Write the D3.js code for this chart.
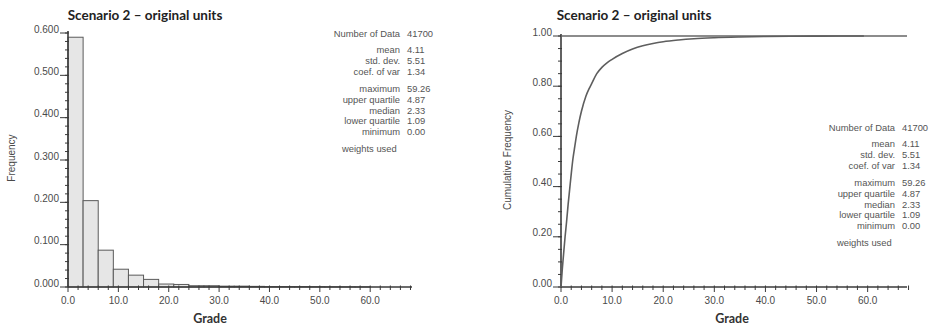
<!DOCTYPE html>
<html>
<head>
<meta charset="utf-8">
<script src="https://cdn.jsdelivr.net/npm/d3@7"></script>
<style>
  body { margin: 0; background: #fff; }
  svg text { font-family: "Liberation Sans", Arial, sans-serif; }
</style>
</head>
<body>
<div id="chart"></div>
<script>
// histogram, bins of 3.0 grade units
var binWidth = 3;
var binStarts = [0, 3, 6, 9, 12, 15, 18, 21, 24, 27, 30, 33, 36, 39, 42, 45, 48, 51, 54, 57];
var binFreq = [0.590, 0.204, 0.087, 0.042, 0.028, 0.018, 0.007, 0.006, 0.003, 0.003,
               0.002, 0.002, 0.0015, 0.001, 0.001, 0.001, 0.0008, 0.0006, 0.0005, 0.0004];

// cumulative curve
var cumGrade = [0, 0.25, 0.5, 0.8, 1.09, 1.4, 1.7, 2.0, 2.33, 2.7, 3.0, 3.5, 4.0, 4.87, 5.5, 6.0, 7.0, 8.0, 9.0,
                10, 12, 14, 16, 18, 20, 23, 26, 30, 35, 40, 45, 50, 59.26];
var cumFreq = [0, 0.07, 0.13, 0.20, 0.26, 0.33, 0.39, 0.45, 0.51, 0.56, 0.60, 0.655, 0.70, 0.76, 0.79, 0.81, 0.85, 0.875, 0.893,
               0.907, 0.930, 0.948, 0.961, 0.970, 0.977, 0.984, 0.989, 0.993, 0.996, 0.998, 0.999, 0.9995, 1.0];

var statLabels = ["Number of Data", "mean", "std. dev.", "coef. of var", "maximum", "upper quartile", "median", "lower quartile", "minimum"];
var statValues = ["41700", "4.11", "5.51", "1.34", "59.26", "4.87", "2.33", "1.09", "0.00"];

var titleText = "Scenario 2 \u2013 original units";

var svg = d3.select("#chart").append("svg")
    .attr("width", 933)
    .attr("height", 326)

var axisCol = "#3a3a3a";
var textCol = "#4a4a4a";

function drawAxes(g, x, y, yMajor, yMinor, yFmt) {
  var x0 = x.range()[0], x1 = x.range()[1];
  var y0 = y.range()[0], y1 = y.range()[1];

  // x axis
  g.append("line").attr("x1", x0).attr("x2", x1).attr("y1", y0).attr("y2", y0)
    .attr("stroke", axisCol).attr("stroke-width", 1.6)
  g.selectAll(".xminor").data(d3.range(0, 68.1, 2)).enter().append("line")
    .attr("x1", d => x(d)).attr("x2", d => x(d))
    .attr("y1", y0 - 1.5).attr("y2", d => d % 10 == 0 ? y0 + 5 : y0 + 3)
    .attr("stroke", axisCol).attr("stroke-width", 1)
  g.selectAll(".xlab").data(d3.range(0, 61, 10)).enter().append("text")
    .attr("x", d => x(d)).attr("y", y0 + 17)
    .attr("text-anchor", "middle")
    .attr("font-size", 10).attr("fill", textCol)
    .text(d => d3.format(".1f")(d))

  // y axis
  g.append("line").attr("x1", x0).attr("x2", x0).attr("y1", y0).attr("y2", y1 - 2)
    .attr("stroke", axisCol).attr("stroke-width", 1.6)
  g.selectAll(".yminor").data(yMinor).enter().append("line")
    .attr("x1", x0 - 3).attr("x2", x0 + 1)
    .attr("y1", d => y(d)).attr("y2", d => y(d))
    .attr("stroke", axisCol).attr("stroke-width", 1)
  g.selectAll(".ymajor").data(yMajor).enter().append("line")
    .attr("x1", x0 - 8).attr("x2", x0)
    .attr("y1", d => y(d)).attr("y2", d => y(d))
    .attr("stroke", axisCol).attr("stroke-width", 1)
  g.selectAll(".ylab").data(yMajor).enter().append("text")
    .attr("x", x0 - 9).attr("y", d => y(d) - 0.5)
    .attr("text-anchor", "end")
    .attr("font-size", 10).attr("fill", textCol)
    .text(d => yFmt(d))
}

function drawStats(g, rightX, topY) {
  var rows = [0, 16, 26.8, 37.6, 55, 65.8, 76.6, 87.4, 98.2];
  g.selectAll(".slab").data(statLabels).enter().append("text")
    .attr("x", rightX).attr("y", (d, i) => topY + rows[i])
    .attr("text-anchor", "end")
    .attr("font-size", 9.4).attr("fill", "#555")
    .text(d => d)
  g.selectAll(".sval").data(statValues).enter().append("text")
    .attr("x", rightX + 7).attr("y", (d, i) => topY + rows[i])
    .attr("font-size", 9.4).attr("fill", "#555")
    .text(d => d)
  g.append("text")
    .attr("x", rightX - 58).attr("y", topY + 115)
    .attr("font-size", 9.4).attr("fill", "#555")
    .text("weights used")
}

// ---- left: histogram ----
var left = svg.append("g")
var xL = d3.scaleLinear().domain([0, 68.3]).range([68, 412]);
var yL = d3.scaleLinear().domain([0, 0.6]).range([287, 33]);

left.selectAll("rect")
  .data(binFreq)
  .enter().append("rect")
    .attr("x", (d, i) => xL(binStarts[i]))
    .attr("width", (d, i) => xL(binStarts[i] + binWidth) - xL(binStarts[i]))
    .attr("y", d => yL(d))
    .attr("height", d => yL(0) - yL(d))
    .attr("fill", "#e6e6e6")
    .attr("stroke", "#5a5a5a")
    .attr("stroke-width", 1)

drawAxes(left, xL, yL, d3.range(0, 0.61, 0.1), d3.range(0, 0.601, 0.02), d3.format(".3f"));

left.append("text").attr("x", 145).attr("y", 20)
  .attr("text-anchor", "middle").attr("font-size", 13.5).attr("font-weight", "bold")
  .style("font-family", "Lato, 'Open Sans', sans-serif").attr("fill", "#222")
  .text(titleText)
left.append("text").attr("x", 210).attr("y", 323)
  .attr("text-anchor", "middle").attr("font-size", 12.5).attr("font-weight", "bold")
  .style("font-family", "Lato, 'Open Sans', sans-serif").attr("fill", "#333")
  .text("Grade")
left.append("text").attr("transform", "translate(15,158) rotate(-90)")
  .attr("text-anchor", "middle").attr("font-size", 10).attr("fill", textCol)
  .text("Frequency")

drawStats(left, 400, 37);

// ---- right: cumulative ----
var right = svg.append("g")
var xR = d3.scaleLinear().domain([0, 67.7]).range([561, 907]);
var yR = d3.scaleLinear().domain([0, 1]).range([287, 36]);

drawAxes(right, xR, yR, d3.range(0, 1.01, 0.2), d3.range(0, 1.001, 0.05), d3.format(".2f"));

right.append("line")
  .attr("x1", xR(0)).attr("x2", xR(67.7)).attr("y1", yR(1)).attr("y2", yR(1))
  .attr("stroke", "#666").attr("stroke-width", 1.4)

var line = d3.line()
  .x((d, i) => xR(cumGrade[i]))
  .y(d => yR(d))
  .curve(d3.curveMonotoneX)

right.append("path")
  .datum(cumFreq)
  .attr("d", line)
  .attr("fill", "none")
  .attr("stroke", "#5e5e5e")
  .attr("stroke-width", 1.6)

right.append("text").attr("x", 634).attr("y", 20)
  .attr("text-anchor", "middle").attr("font-size", 13.5).attr("font-weight", "bold")
  .style("font-family", "Lato, 'Open Sans', sans-serif").attr("fill", "#222")
  .text(titleText)
right.append("text").attr("x", 732).attr("y", 323)
  .attr("text-anchor", "middle").attr("font-size", 12.5).attr("font-weight", "bold")
  .style("font-family", "Lato, 'Open Sans', sans-serif").attr("fill", "#333")
  .text("Grade")
right.append("text").attr("transform", "translate(511,160) rotate(-90)")
  .attr("text-anchor", "middle").attr("font-size", 10).attr("fill", textCol)
  .text("Cumulative Frequency")

drawStats(right, 895, 131);
</script>
</body>
</html>
